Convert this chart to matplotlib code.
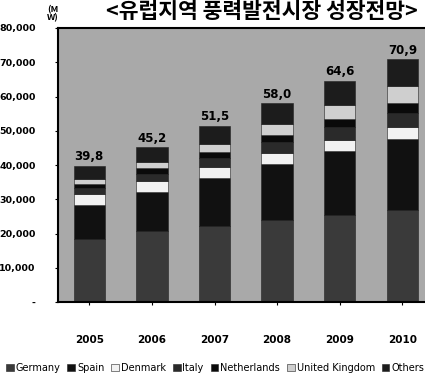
import numpy as np
import matplotlib.pyplot as plt

plt.rcParams['font.family'] = ['Noto Sans CJK KR', 'DejaVu Sans']
latin = ['DejaVu Sans']

years = ['2005', '2006', '2007', '2008', '2009', '2010']
totals = [39.8, 45.2, 51.5, 58.0, 64.6, 70.9]   # thousand MW
countries = ['Germany', 'Spain', 'Denmark', 'Italy', 'Netherlands',
             'United Kingdom', 'Others']
germany = [18.4, 20.6, 22.2, 23.9, 25.5, 27.0]
spain = [10.0, 11.6, 14.0, 16.5, 18.5, 20.5]
denmark = [3.1, 3.1, 3.1, 3.2, 3.4, 3.6]
italy = [1.7, 2.1, 2.6, 3.1, 3.6, 4.1]
netherlands = [1.2, 1.6, 1.8, 2.1, 2.4, 2.8]
uk = [1.4, 1.9, 2.4, 3.1, 4.0, 5.0]
others = [4.0, 4.3, 5.4, 6.1, 7.2, 7.9]
yticks = [10000, 20000, 30000, 40000, 50000, 60000, 70000, 80000]

series = [germany, spain, denmark, italy, netherlands, uk, others]
colors = ['#3a3a3a', '#111111', '#f2f2f2', '#2a2a2a', '#0a0a0a', '#cfcfcf', '#1c1c1c']

fig = plt.figure(figsize=(4.25, 3.85), dpi=100)
ax = fig.add_axes([58/425, 1-302/385, 1.035-58/425, 274/385])
ax.set_facecolor('#a9a9a9')

x = np.arange(len(years))
bottom = np.zeros(len(years))
for name, vals, c in zip(countries, series, colors):
    v = np.array(vals) * 1000
    ax.bar(x, v, 0.5, bottom=bottom, color=c, edgecolor='#222222',
           linewidth=0.4, label=name)
    bottom += v

for xi, t in zip(x, totals):
    ax.text(xi, t*1000 + 700, f'{t:.1f}'.replace('.', ','), ha='center',
            va='bottom', fontsize=8.5, fontweight='bold', family=latin)

ax.set_xlim(-0.5, 5.6)
ax.set_ylim(0, 80000)
ax.set_yticks([0] + yticks)
ax.set_yticklabels(['-'] + [f'{v:,}' for v in yticks], fontsize=6.8,
                   fontweight='bold', family=latin)
ax.tick_params(axis='y', length=2, pad=14)
ax.set_xticks(x)
ax.set_xticklabels(years, fontsize=7.5, fontweight='bold', family=latin)
ax.tick_params(axis='x', length=2, pad=22)
for s in ['left', 'bottom', 'top']:
    ax.spines[s].set_linewidth(1.5)
ax.spines['right'].set_visible(False)

fig.text(47/425, 1-14/385, '(M\nW)', fontsize=6.5, fontweight='bold',
         ha='left', va='center', linespacing=0.9)
fig.text(106/425, 1-11/385, '<유럽지역 풍력발전시장 성장전망>', fontsize=15.5,
         fontweight='black', ha='left', va='center')

fig.legend(loc='center left', bbox_to_anchor=(2/425, 1-368/385), ncol=7,
           prop={'family': latin, 'size': 7}, frameon=False,
           handlelength=0.8, handleheight=0.8,
           handletextpad=0.2, columnspacing=0.7, borderaxespad=0)

fig.savefig('out.png', dpi=100)
